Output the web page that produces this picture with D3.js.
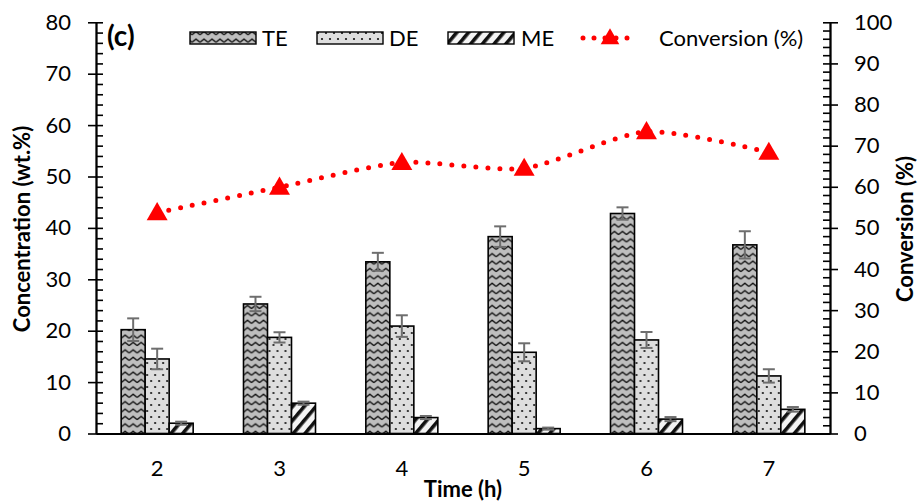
<!DOCTYPE html>
<html>
<head>
<meta charset="utf-8">
<script src="https://cdn.jsdelivr.net/npm/d3@7"></script>
<style>
  html, body { margin: 0; padding: 0; background: #fff; }
  svg { display: block; font-family: Lato, "Open Sans", sans-serif; }
</style>
</head>
<body>
<svg id="chart" width="920" height="502"></svg>
<script>
// Reaction time (h)
const times = ["2", "3", "4", "5", "6", "7"];
// Ester concentrations (wt.%) with standard deviations
const teValues = [20.2, 25.2, 33.4, 38.3, 42.8, 36.7];
const teErrors = [2.2, 1.4, 1.75, 2.0, 1.2, 2.65];
const deValues = [14.5, 18.7, 20.9, 15.8, 18.2, 11.2];
const deErrors = [2.0, 1.0, 2.1, 1.75, 1.55, 1.3];
const meValues = [2.0, 5.9, 3.1, 0.95, 2.8, 4.7];
const meErrors = [0.3, 0.3, 0.3, 0.2, 0.4, 0.45];
// Conversion (%)
const conversion = [53.7, 59.9, 65.9, 64.5, 73.4, 68.4];
// Axis ticks
const leftTicks = d3.range(0, 81, 10);
const rightTicks = d3.range(0, 101, 10);
const seriesNames = ["TE", "DE", "ME"];

const svg = d3.select("#chart");
const plot = { left: 96, right: 830, top: 22.3, bottom: 433.5 };

// Fill patterns
const defs = svg.append("defs");
const pTE = defs.append("pattern").attr("id", "pat-te")
  .attr("patternUnits", "userSpaceOnUse").attr("width", 8).attr("height", 7.4);
pTE.append("rect").attr("width", 8).attr("height", 7.4).attr("fill", "#bebebe");
pTE.append("path").attr("d", "M0,5.2 L4,2 L8,5.2")
  .attr("fill", "none").attr("stroke", "#111").attr("stroke-width", 1.4);

const pDE = defs.append("pattern").attr("id", "pat-de")
  .attr("patternUnits", "userSpaceOnUse").attr("width", 8).attr("height", 12);
pDE.append("rect").attr("width", 8).attr("height", 12).attr("fill", "#dedede");
pDE.append("circle").attr("cx", 2).attr("cy", 3).attr("r", 1.1).attr("fill", "#111");
pDE.append("circle").attr("cx", 6).attr("cy", 9).attr("r", 1.1).attr("fill", "#111");

const pME = defs.append("pattern").attr("id", "pat-me")
  .attr("patternUnits", "userSpaceOnUse").attr("width", 9).attr("height", 9)
  .attr("patternTransform", "rotate(40)");
pME.append("rect").attr("width", 9).attr("height", 9).attr("fill", "#f4f4f4");
pME.append("rect").attr("width", 3.6).attr("height", 9).attr("fill", "#111");

const fills = { TE: "url(#pat-te)", DE: "url(#pat-de)", ME: "url(#pat-me)" };

// Scales
const x = d3.scaleBand().domain(times).range([plot.left, plot.right]);
const groupWidth = 72;
const xs = d3.scaleBand().domain(seriesNames).range([0, groupWidth]);
const yL = d3.scaleLinear().domain([0, 80]).range([plot.bottom, plot.top]);
const yR = d3.scaleLinear().domain([0, 100]).range([plot.bottom, plot.top]);

const data = times.map((t, i) => ({
  time: t,
  bars: [
    { key: "TE", v: teValues[i], e: teErrors[i] },
    { key: "DE", v: deValues[i], e: deErrors[i] },
    { key: "ME", v: meValues[i], e: meErrors[i] }
  ]
}));

// Bars
const groups = svg.append("g").selectAll("g").data(data).join("g")
  .attr("transform", d => `translate(${x(d.time) + (x.bandwidth() - groupWidth) / 2},0)`);
groups.selectAll("rect").data(d => d.bars).join("rect")
  .attr("x", d => xs(d.key))
  .attr("width", xs.bandwidth())
  .attr("y", d => yL(d.v))
  .attr("height", d => yL(0) - yL(d.v))
  .attr("fill", d => fills[d.key])
  .attr("stroke", "#000").attr("stroke-width", 1.6);

// Error bars
const eb = groups.selectAll("g.err").data(d => d.bars).join("g").attr("class", "err")
  .attr("stroke", "#6e6e6e").attr("stroke-width", 2);
eb.append("line")
  .attr("x1", d => xs(d.key) + xs.bandwidth() / 2).attr("x2", d => xs(d.key) + xs.bandwidth() / 2)
  .attr("y1", d => yL(d.v + d.e)).attr("y2", d => yL(d.v - d.e));
eb.append("line")
  .attr("x1", d => xs(d.key) + xs.bandwidth() / 2 - 6).attr("x2", d => xs(d.key) + xs.bandwidth() / 2 + 6)
  .attr("y1", d => yL(d.v + d.e)).attr("y2", d => yL(d.v + d.e));
eb.append("line")
  .attr("x1", d => xs(d.key) + xs.bandwidth() / 2 - 6).attr("x2", d => xs(d.key) + xs.bandwidth() / 2 + 6)
  .attr("y1", d => yL(d.v - d.e)).attr("y2", d => yL(d.v - d.e));

// Axes
function styleAxis(g) {
  g.select(".domain").attr("stroke", "#000").attr("stroke-width", 1.8);
  g.selectAll(".tick line").attr("stroke", "#000").attr("stroke-width", 1.6);
  g.selectAll(".tick text").attr("fill", "#000").style("font-size", "22px")
    .style("font-family", "Lato, sans-serif");
}

svg.append("g").attr("transform", `translate(${plot.left},0)`)
  .call(d3.axisRight(yL).tickValues(d3.range(0, 81, 2)).tickSize(7).tickSizeOuter(0).tickFormat(""))
  .call(styleAxis);
svg.append("g").attr("transform", `translate(${plot.left},0)`)
  .call(d3.axisLeft(yL).tickValues(leftTicks).tickSizeInner(8).tickSizeOuter(0).tickPadding(17))
  .call(styleAxis);

svg.append("g").attr("transform", `translate(${plot.right},0)`)
  .call(d3.axisLeft(yR).tickValues(d3.range(0, 101, 2)).tickSize(7).tickSizeOuter(0).tickFormat(""))
  .call(styleAxis);
svg.append("g").attr("transform", `translate(${plot.right},0)`)
  .call(d3.axisRight(yR).tickValues(rightTicks).tickSizeInner(8).tickSizeOuter(0).tickPadding(16))
  .call(styleAxis);

svg.append("g").attr("transform", `translate(0,${plot.bottom})`)
  .call(d3.axisBottom(x).tickSize(0).tickPadding(27))
  .call(styleAxis)
  .call(g => g.select(".domain").attr("stroke-width", 2));

// Conversion line
const convPts = times.map((t, i) => [x(t) + x.bandwidth() / 2, yR(conversion[i])]);
svg.append("path")
  .attr("d", d3.line().curve(d3.curveCardinal.tension(0.3))(convPts))
  .attr("fill", "none").attr("stroke", "#ff0000").attr("stroke-width", 5)
  .attr("stroke-linecap", "round").attr("stroke-dasharray", "0 12");
const tri = d3.symbol().type(d3.symbolTriangle).size(190);
svg.append("g").selectAll("path").data(convPts).join("path")
  .attr("transform", d => `translate(${d[0]},${d[1] + 1.5})`)
  .attr("d", tri).attr("fill", "#ff0000");

// Axis titles
svg.append("text").attr("transform", "translate(30,229) rotate(-90)")
  .attr("text-anchor", "middle").style("font-size", "22px").style("font-weight", "bold")
  .text("Concentration (wt.%)");
svg.append("text").attr("transform", "translate(913,229) rotate(-90)")
  .attr("text-anchor", "middle").style("font-size", "22px").style("font-weight", "bold")
  .text("Conversion (%)");
svg.append("text").attr("x", 463).attr("y", 497)
  .attr("text-anchor", "middle").style("font-size", "22px").style("font-weight", "bold")
  .text("Time (h)");

// Panel tag
svg.append("text").attr("x", 107).attr("y", 46)
  .style("font-size", "28px").style("font-weight", "bold").text("(c)");

// Legend
const legY = 38;
const legItems = [
  { key: "TE", x: 190, tx: 262 },
  { key: "DE", x: 317, tx: 389 },
  { key: "ME", x: 448, tx: 521 }
];
const leg = svg.append("g");
legItems.forEach(d => {
  leg.append("rect").attr("x", d.x).attr("y", legY - 6).attr("width", 66).attr("height", 12)
    .attr("fill", fills[d.key]).attr("stroke", "#000").attr("stroke-width", 1.4);
  leg.append("text").attr("x", d.tx).attr("y", legY + 8).style("font-size", "22px").text(d.key);
});
leg.append("path").attr("d", `M583,${legY} L638,${legY}`)
  .attr("stroke", "#ff0000").attr("stroke-width", 5).attr("stroke-linecap", "round")
  .attr("stroke-dasharray", "0 11");
leg.append("path").attr("transform", `translate(610,${legY + 1})`)
  .attr("d", d3.symbol().type(d3.symbolTriangle).size(150)).attr("fill", "#ff0000");
leg.append("text").attr("x", 659).attr("y", legY + 8).style("font-size", "22px").text("Conversion (%)");
</script>
</body>
</html>
